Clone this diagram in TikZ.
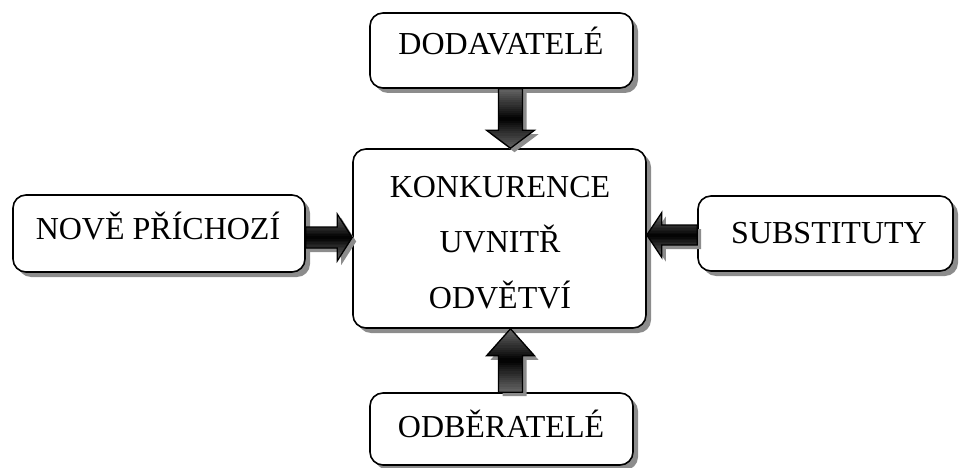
\documentclass[tikz,border=0pt]{standalone}
\usepackage{fontspec}
\setmainfont{Liberation Serif}
\usetikzlibrary{calc,shadows}
% horizontal bands from grey to black and back, between two heights
\newcommand\gradbands[2]{%
  \foreach \i in {0,...,29}{%
    \pgfmathsetmacro\cc{60+40*(1-abs(2*\i/29-1))}%
    \pgfmathsetmacro\ya{#1+(#2-#1)*\i/30}%
    \pgfmathsetmacro\yb{#1+(#2-#1)*(\i+1)/30+0.4}%
    \fill[black!\cc] (0,\ya) rectangle (959,\yb);}}
% shadow, banded fill and outline of a saved arrow outline
\newcommand\paintarrow[3]{%
  \fill[black!45, transform canvas={shift={(4,4)}}, use path=#1];
  \begin{scope}\clip[use path=#1];\gradbands{#2}{#3}\end{scope}
  \draw[black, line width=1.3pt, line join=miter, use path=#1];}
\begin{document}
\begin{tikzpicture}[x=1pt,y=-1pt,
  box/.style={draw=black, line width=1.6pt, fill=white, rounded corners=13pt,
    inner sep=0pt, drop shadow={shadow xshift=5pt, shadow yshift=-5pt, fill=black!45, opacity=1}},
  lbl/.style={anchor=base, inner sep=0pt, font=\fontsize{32}{38}\selectfont}]
\useasboundingbox (0,0) rectangle (959,468);

% boxes
\node[box, minimum width=263pt, minimum height=75pt] (dod) at (501.5,50.5) {};
\node[box, minimum width=293pt, minimum height=179pt] (kon) at (499.5,238.5) {};
\node[box, minimum width=292pt, minimum height=77pt] (nov) at (159,233.5) {};
\node[box, minimum width=255pt, minimum height=75pt] (sub) at (825.5,233.5) {};
\node[box, minimum width=263pt, minimum height=72pt] (odb) at (501.5,429) {};

% labels
\node[lbl] (tdod) at (501,55) {DODAVATELÉ};
\node[lbl] (tk1) at (500,197) {KONKURENCE};
\node[lbl] (tk2) at (500,252) {UVNITŘ};
\node[lbl] (tk3) at (500,308) {ODVĚTVÍ};
\node[lbl] (tnov) at (158,240) {NOVĚ PŘÍCHOZÍ};
\node[lbl] (tsub) at (829,243) {SUBSTITUTY};
\node[lbl] (todb) at (501,437) {ODBĚRATELÉ};

% down: supplier box into the centre
\coordinate (d0) at ($(dod.south)+(9,0)$);
\coordinate (d1) at (d0 |- kon.north);
\path[save path=\pdown] ($(d0)+(-12,0)$) -- ($(d0)+(12,0)$) -- ($(d1)+(12,-18)$)
  -- ($(d1)+(24,-18)$) -- (d1) -- ($(d1)+(-24,-18)$) -- ($(d1)+(-12,-18)$) -- cycle;
\paintarrow{\pdown}{88}{150}

% up: buyer box into the centre
\coordinate (u0) at ($(odb.north)+(9,0)$);
\coordinate (u1) at (u0 |- kon.south);
\path[save path=\pup] ($(u0)+(-12,0)$) -- ($(u0)+(12,0)$) -- ($(u1)+(12,27)$)
  -- ($(u1)+(24,27)$) -- (u1) -- ($(u1)+(-24,27)$) -- ($(u1)+(-12,27)$) -- cycle;
\paintarrow{\pup}{328}{393}

% right: new entrants into the centre
\coordinate (r0) at ($(nov.east)+(0,4)$);
\coordinate (r1) at (r0 -| kon.west);
\path[save path=\pright] ($(r0)+(0,-10.5)$) -- ($(r0)+(0,10.5)$) -- ($(r1)+(-15,10.5)$)
  -- ($(r1)+(-15,23.5)$) -- (r1) -- ($(r1)+(-15,-23.5)$) -- ($(r1)+(-15,-10.5)$) -- cycle;
\paintarrow{\pright}{214}{261}

% left: substitutes into the centre
\coordinate (l0) at ($(sub.west)+(0,1.5)$);
\coordinate (l1) at (l0 -| kon.east);
\path[save path=\pleft] ($(l0)+(0,-10)$) -- ($(l0)+(0,10)$) -- ($(l1)+(15,10)$)
  -- ($(l1)+(15,22.5)$) -- (l1) -- ($(l1)+(15,-22.5)$) -- ($(l1)+(15,-10)$) -- cycle;
\paintarrow{\pleft}{213}{258}
\end{tikzpicture}
\end{document}
